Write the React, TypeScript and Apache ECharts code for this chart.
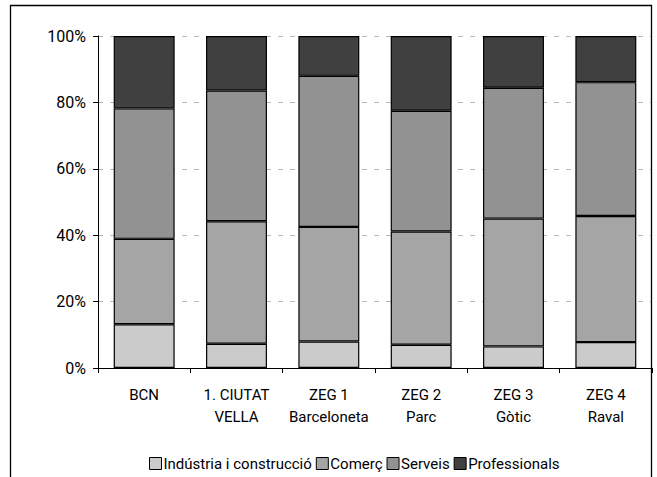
import React, { useEffect, useRef } from "react";
import * as echarts from "echarts";

const categories = ["BCN", "1. CIUTAT\nVELLA", "ZEG 1\nBarceloneta", "ZEG 2\nParc", "ZEG 3\nGòtic", "ZEG 4\nRaval"];
const seriesNames = ["Indústria i construcció", "Comerç", "Serveis", "Professionals"];
const industria = [13.2, 7.3, 8.0, 7.0, 6.5, 7.8];
const comerc = [25.7, 36.9, 34.5, 34.1, 38.5, 38.0];
const serveis = [39.3, 39.4, 45.5, 36.4, 39.4, 40.3];
const professionals = [21.8, 16.4, 12.0, 22.5, 15.6, 13.9];
const yTicks = [0, 20, 40, 60, 80, 100];
const colors = ["#cbcbcb", "#a5a5a5", "#929292", "#404040"];

const FONT = "Roboto";

export default function App() {
  const ref = useRef<HTMLDivElement>(null);
  useEffect(() => {
    document.body.style.margin = "0";
    if (!ref.current) return;
    const chart = echarts.init(ref.current, null, { renderer: "svg" });
    const values = [industria, comerc, serveis, professionals];
    chart.setOption({
      animation: false,
      backgroundColor: "#ffffff",
      graphic: [
        {
          type: "polyline",
          shape: { points: [[10.5, 477], [10.5, 5.5], [651.5, 5.5], [651.5, 477]] },
          style: { stroke: "#000", lineWidth: 1.3, fill: null },
          silent: true,
          z: 100,
        },
      ],
      grid: { left: 98, right: 5, top: 36, bottom: 109, containLabel: false },
      legend: {
        top: 451,
        left: 144,
        itemWidth: 12,
        itemHeight: 12,
        itemGap: 4,
        icon: "rect",
        data: seriesNames,
        itemStyle: { borderColor: "#000", borderWidth: 1 },
        textStyle: { fontFamily: FONT, fontSize: 15, color: "#000", padding: [0, 0, 0, -3] },
      },
      xAxis: {
        type: "category",
        data: categories,
        axisLine: { lineStyle: { color: "#000", width: 1 } },
        axisTick: { show: true, length: 5, lineStyle: { color: "#000" } },
        axisLabel: {
          fontFamily: FONT,
          fontSize: 15,
          color: "#000",
          lineHeight: 22,
          margin: 16,
          interval: 0,
        },
      },
      yAxis: {
        type: "value",
        min: 0,
        max: 100,
        interval: 20,
        axisLine: { show: true, lineStyle: { color: "#000", width: 1 } },
        axisTick: { show: true, length: 5, lineStyle: { color: "#000" } },
        axisLabel: {
          fontFamily: FONT,
          fontSize: 16,
          color: "#000",
          margin: 12,
          formatter: (v: number) => (yTicks.includes(v) ? v + "%" : ""),
        },
        splitLine: {
          show: true,
          lineStyle: { color: "#b8b8b8", type: [5, 7], width: 1 },
        },
      },
      series: seriesNames.map((name, i) => ({
        name,
        type: "bar",
        stack: "total",
        barWidth: "66%",
        data: values[i],
        itemStyle: { color: colors[i], borderColor: "#000", borderWidth: 1.2 },
      })),
    });
    return () => chart.dispose();
  }, []);
  return <div ref={ref} style={{ width: 657, height: 477 }} />;
}
